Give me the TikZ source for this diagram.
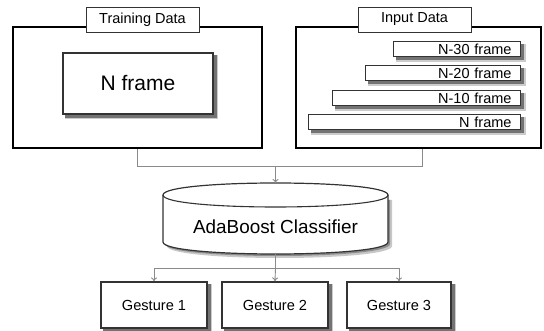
\documentclass[tikz,border=0pt]{standalone}
\usepackage{fontspec}
\setmainfont{Liberation Sans}
\usetikzlibrary{arrows.meta,backgrounds}
\definecolor{edgegray}{HTML}{8A8A8A}
\definecolor{boxline}{HTML}{333333}
\tikzset{
  panel/.style={draw=black, line width=1.8pt, minimum width=#1, minimum height=121pt, inner sep=0pt},
  tab/.style={draw=boxline, line width=0.9pt, fill=white, minimum width=113pt, minimum height=25pt, inner sep=0pt, font=\fontsize{14.5pt}{16pt}\selectfont},
  raised/.style={draw=boxline, line width=1.2pt, fill=white, inner sep=0pt},
  bar/.style={raised, line width=1pt, minimum width=#1, minimum height=15pt, anchor=east, align=right,
    text width=#1-18pt, font=\fontsize{14.5pt}{15pt}\selectfont},
  gesture/.style={raised, minimum width=#1, minimum height=46pt, font=\fontsize{14.6pt}{17pt}\selectfont},
  shadeout/.style={fill=black!20},
  shadein/.style={fill=black!55},
  conn/.style={draw=edgegray, line width=0.9pt},
  arr/.style={conn, -{To[length=4pt,width=6pt]}}
}
\begin{document}
\begin{tikzpicture}[x=1pt,y=-1pt]
\useasboundingbox (0,0) rectangle (544,331);

% training side
\node[panel=249pt] (train) at (137.5,87.5) {};
\node[tab] (traintab) at (142.5,19.5) {Training Data};
\node[raised, line width=1.5pt, minimum width=150pt, minimum height=61pt, font=\fontsize{21pt}{24pt}\selectfont] (nframe) at (138,83.5) {N frame};

% input side
\node[panel=245pt] (input) at (418.5,87.5) {};
\node[tab] (inputtab) at (414.5,19.5) {Input Data};
\node[bar=127pt] (n30) at (521,49.5) {N-30 frame};
\node[bar=155pt] (n20) at (521,73.5) {N-20 frame};
\node[bar=188pt] (n10) at (521,98.5) {N-10 frame};
\node[bar=212pt] (n0)  at (521,122.5) {N frame};

% classifier drum with its shadow
\fill[black!22]
  (167,200) -- (167,246) .. controls (167,262) and (392,262) .. (392,246) -- (392,200) -- cycle;
\fill[black!45]
  (165,200) -- (165,244) .. controls (165,260) and (390,260) .. (390,244) -- (390,200) -- cycle;
\draw[boxline, line width=1.2pt, fill=white]
  (163,195) -- (163,242) .. controls (163,258) and (388,258) .. (388,242) -- (388,195)
  .. controls (388,179) and (163,179) .. (163,195) -- cycle;
\draw[boxline, line width=1.1pt] (163,195) .. controls (163,211) and (388,211) .. (388,195);
\node[font=\fontsize{18.9pt}{21pt}\selectfont] (clf) at (275.5,227) {AdaBoost Classifier};
\coordinate (clftop) at (275.5,183);
\coordinate (clfbot) at (275.5,254);

% gestures
\node[gesture=106pt] (g1) at (154,305) {Gesture 1};
\node[gesture=106pt] (g2) at (275,305) {Gesture 2};
\node[gesture=104pt] (g3) at (399,305) {Gesture 3};

% soft drop shadows under the raised boxes
\begin{pgfonlayer}{background}
  \foreach \n in {nframe,n30,n20,n10,n0,g1,g2,g3} {
    \fill[shadeout] ([shift={(3,3)}]\n.north west) rectangle ([shift={(4.5,4.5)}]\n.south east);
    \fill[shadein]  ([shift={(3,3)}]\n.north west) rectangle ([shift={(3,3)}]\n.south east);
  }
\end{pgfonlayer}

% connectors
\coordinate (join) at (275.5,166);
\coordinate (split) at (275.5,268);
\draw[conn] (train.south) |- ([xshift=3.5pt]input.south |- join) -- ([xshift=3.5pt]input.south);
\draw[arr] (join) -- (clftop);
\draw[conn] (clfbot) -- (split);
\draw[arr] (split) -| (g1.north);
\draw[arr] (split) -| (g3.north);
\draw[arr] (split) -- (g2.north);
\end{tikzpicture}
\end{document}
